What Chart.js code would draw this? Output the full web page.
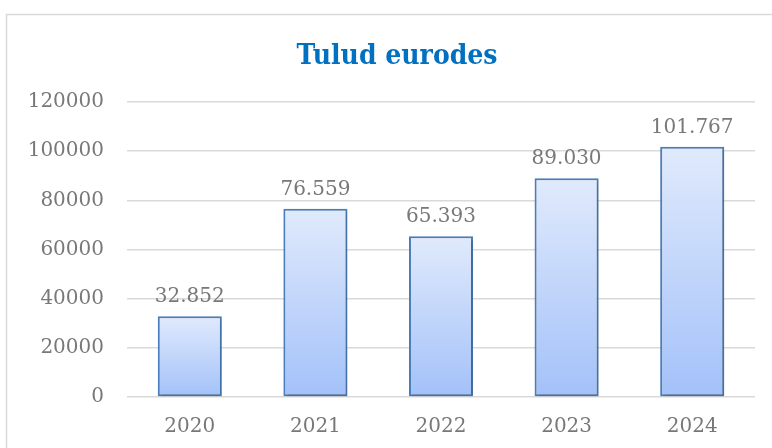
<!DOCTYPE html>
<html>
<head>
<meta charset="utf-8">
<script src="https://cdn.jsdelivr.net/npm/chart.js@4.4.1/dist/chart.umd.min.js"></script>
<style>
  html, body { margin: 0; padding: 0; background: #fff; overflow: hidden; }
  canvas { display: block; }
</style>
</head>
<body>
<canvas id="tulud" width="772" height="448"></canvas>
<script>
// andmed
const aastad = ['2020', '2021', '2022', '2023', '2024'];
const tulud = [32852, 76559, 65393, 89030, 101767];
const yTicks = [0, 20000, 40000, 60000, 80000, 100000, 120000];
const pealkiri = 'Tulud eurodes';

const serif = "'DejaVu Serif', 'Liberation Serif', serif";
const serifCond = "'DejaVu Serif Condensed', 'DejaVu Serif', serif";
const grey = '#787878';

// 32852 -> "32.852"
function formatValue(v) {
  return String(v).replace(/\B(?=(\d{3})+(?!\d))/g, '.');
}

// raam ymber graafiku + pealkiri
const framePlugin = {
  id: 'frame',
  beforeDraw(chart) {
    const ctx = chart.ctx;
    ctx.save();
    ctx.fillStyle = '#fff';
    ctx.fillRect(0, 0, chart.width, chart.height);
    ctx.strokeStyle = '#d9d9d9';
    ctx.lineWidth = 1.5;
    ctx.strokeRect(6.5, 14.5, chart.width + 20, chart.height + 20);
    ctx.restore();
  },
  afterDraw(chart) {
    const ctx = chart.ctx;
    ctx.save();
    ctx.font = 'bold 28px ' + serifCond;
    ctx.fillStyle = '#0070c0';
    ctx.textAlign = 'center';
    ctx.textBaseline = 'alphabetic';
    ctx.fillText(pealkiri, 397, 64);
    ctx.restore();
  }
};

// vari tulpadele
const shadowPlugin = {
  id: 'barShadow',
  beforeDatasetsDraw(chart) {
    const ctx = chart.ctx;
    ctx.save();
    ctx.shadowColor = 'rgba(0,0,0,0.22)';
    ctx.shadowBlur = 3;
    ctx.shadowOffsetX = 1.5;
    ctx.shadowOffsetY = 1.5;
  },
  afterDatasetsDraw(chart) {
    chart.ctx.restore();
  }
};

// vaartused tulpade kohal
const labelPlugin = {
  id: 'valueLabels',
  afterDatasetsDraw(chart) {
    const ctx = chart.ctx;
    const meta = chart.getDatasetMeta(0);
    ctx.save();
    ctx.font = '20px ' + serif;
    ctx.fillStyle = grey;
    ctx.textAlign = 'center';
    ctx.textBaseline = 'alphabetic';
    meta.data.forEach((bar, i) => {
      ctx.fillText(formatValue(tulud[i]), bar.x, bar.y - 14);
    });
    ctx.restore();
  }
};

function barGradient(context) {
  const chart = context.chart;
  const y = chart.scales.y;
  if (!chart.chartArea || !y || context.parsed === undefined) return '#c3d6f9';
  const top = y.getPixelForValue(context.parsed.y);
  const base = y.getPixelForValue(0);
  if (!isFinite(top) || !isFinite(base) || top === base) return '#c3d6f9';
  const g = chart.ctx.createLinearGradient(0, top, 0, base);
  g.addColorStop(0, '#e0eafc');
  g.addColorStop(1, '#a3c1f9');
  return g;
}

new Chart(document.getElementById('tulud'), {
  type: 'bar',
  data: {
    labels: aastad,
    datasets: [{
      data: tulud,
      backgroundColor: barGradient,
      borderColor: '#4a7ebb',
      borderWidth: 2,
      borderSkipped: false,
      categoryPercentage: 1,
      barPercentage: 0.51
    }]
  },
  options: {
    responsive: false,
    animation: false,
    devicePixelRatio: 1,
    layout: { padding: { left: 0, right: 17, top: 102, bottom: 9 } },
    plugins: {
      legend: { display: false },
      tooltip: { enabled: false },
      title: { display: false }
    },
    scales: {
      x: {
        afterFit(scale) { scale.height = 42; },
        grid: { display: false, drawTicks: false },
        border: { display: false },
        ticks: { color: grey, font: { family: serif, size: 20 }, padding: 18 }
      },
      y: {
        min: 0,
        max: 120000,
        afterBuildTicks(scale) {
          scale.ticks = yTicks.map(v => ({ value: v }));
        },
        afterFit(scale) { scale.width = 127; },
        grid: { color: '#d9d9d9', lineWidth: 1.5, drawTicks: false },
        border: { display: false },
        ticks: {
          color: grey,
          font: { family: serif, size: 20 },
          padding: 23,
          callback: v => String(v)
        }
      }
    }
  },
  plugins: [framePlugin, shadowPlugin, labelPlugin]
});
</script>
</body>
</html>
